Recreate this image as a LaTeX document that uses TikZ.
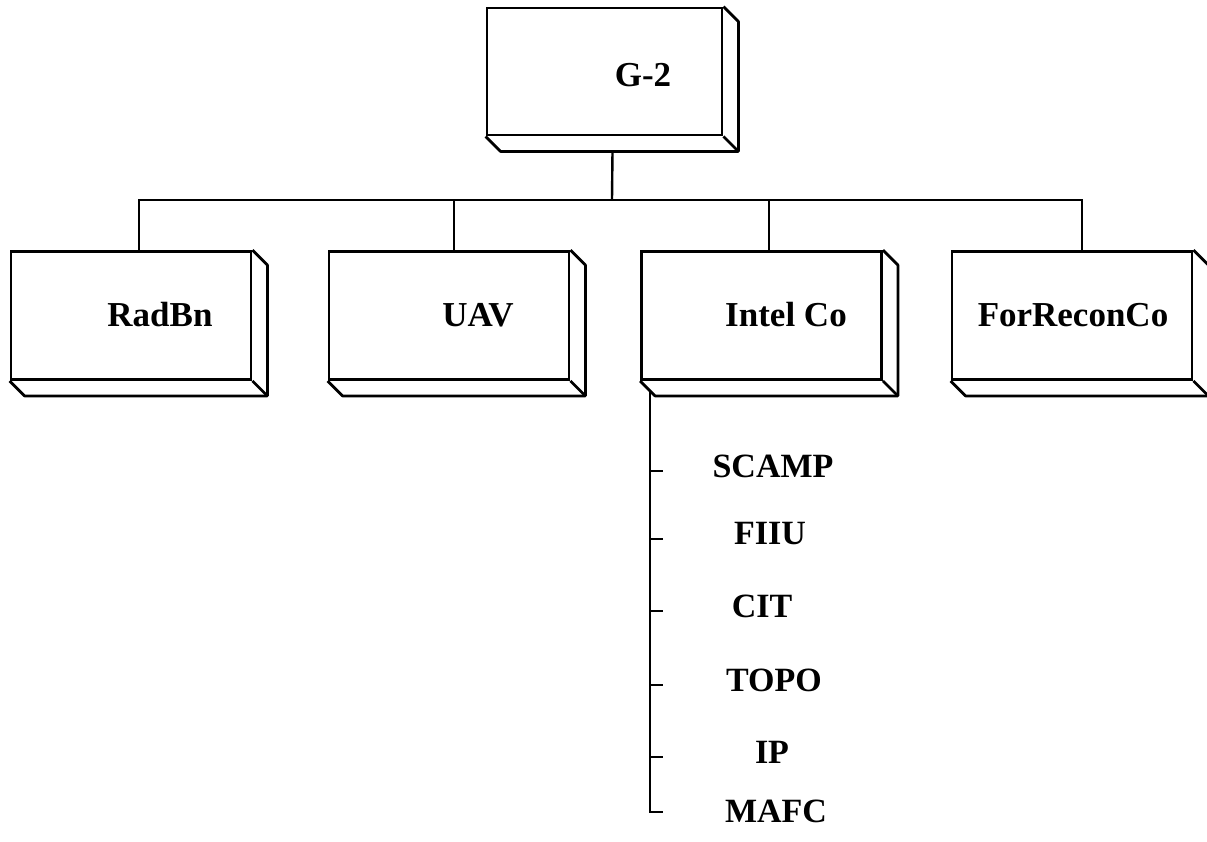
\documentclass[tikz,border=0pt]{standalone}
\usepackage{fontspec}
\setmainfont{Liberation Serif}
\tikzset{
	unitbox/.style={draw,line width=1.4pt,minimum width=120pt,minimum height=64pt,inner sep=0pt},
	unitlbl/.style={font=\fontsize{17.5}{20}\selectfont\bfseries,inner sep=0pt},
	itemlbl/.style={font=\fontsize{17}{20}\selectfont\bfseries,inner sep=0pt},
	link/.style={line width=1.2pt},
	bevel/.style={line width=1.4pt,line join=round}
}
\newcommand{\drawbevel}[1]{%
	\draw[bevel] (#1.south west)--([shift={(15,15)}]#1.south west)--([shift={(15,15)}]#1.south east)--([shift={(15,15)}]#1.north east)--(#1.north east);
	\draw[bevel] (#1.south east)--([shift={(15,15)}]#1.south east);}

\begin{document}
\begin{tikzpicture}[x=0.5pt,y=-0.5pt]
			\useasboundingbox (0,0) rectangle (1207,842);
			\coordinate (hub) at (612,200);
			
			\node[unitbox,minimum width=117.5pt,minimum height=63.5pt] (g2) at (604.5,71.5) {};
			\node[unitbox] (radbn) at (131,315.5) {};
			\node[unitbox] (uav) at (449,315.5) {};
			\node[unitbox] (intel) at (761.5,315.5) {};
			\node[unitbox] (forrecon) at (1072,315.5) {};
			
			\drawbevel{g2}
			\drawbevel{radbn}
			\drawbevel{uav}
			\drawbevel{intel}
			\drawbevel{forrecon}
			
			\node[unitlbl] (g2lbl) at (643,75) {G-2};
			\node[unitlbl] (radbnlbl) at (160,315) {RadBn};
			\node[unitlbl] (uavlbl) at (478,315) {UAV};
			\node[unitlbl] (intellbl) at (786,315) {Intel Co};
			\node[unitlbl] (forreconlbl) at (1073,315) {ForReconCo};
			
			\draw[link] ([shift={(8,15)}]g2.south) -- (hub);
			\draw[link] ([xshift=4pt]radbn.north) |- (hub);
			\draw[link] ([xshift=2.5pt]uav.north) |- (hub);
			\draw[link] ([xshift=3.75pt]intel.north) |- (hub);
			\draw[link] ([xshift=5pt]forrecon.north) |- (hub);
			
			\coordinate (spinetop) at ([shift={(10,10)}]intel.south west);
			\coordinate (spinebot) at (spinetop |- {(0,812)});
			\draw[link] (spinetop) -- (spinebot) -- ++(13,0);
			
			\foreach \nm/\txt/\tx/\ty in {scamp/SCAMP/773/466,fiiu/FIIU/770/534,cit/CIT/762/606,topo/TOPO/774/680,ip/IP/772/752}{
				\node[itemlbl] (\nm) at (\tx,\ty) {\txt};
				\draw[link] (spinetop |- \nm) ++(0,5) -- ++(13,0);
			}
			\node[itemlbl] (mafc) at (776,811) {MAFC};
		\end{tikzpicture}
\end{document}
